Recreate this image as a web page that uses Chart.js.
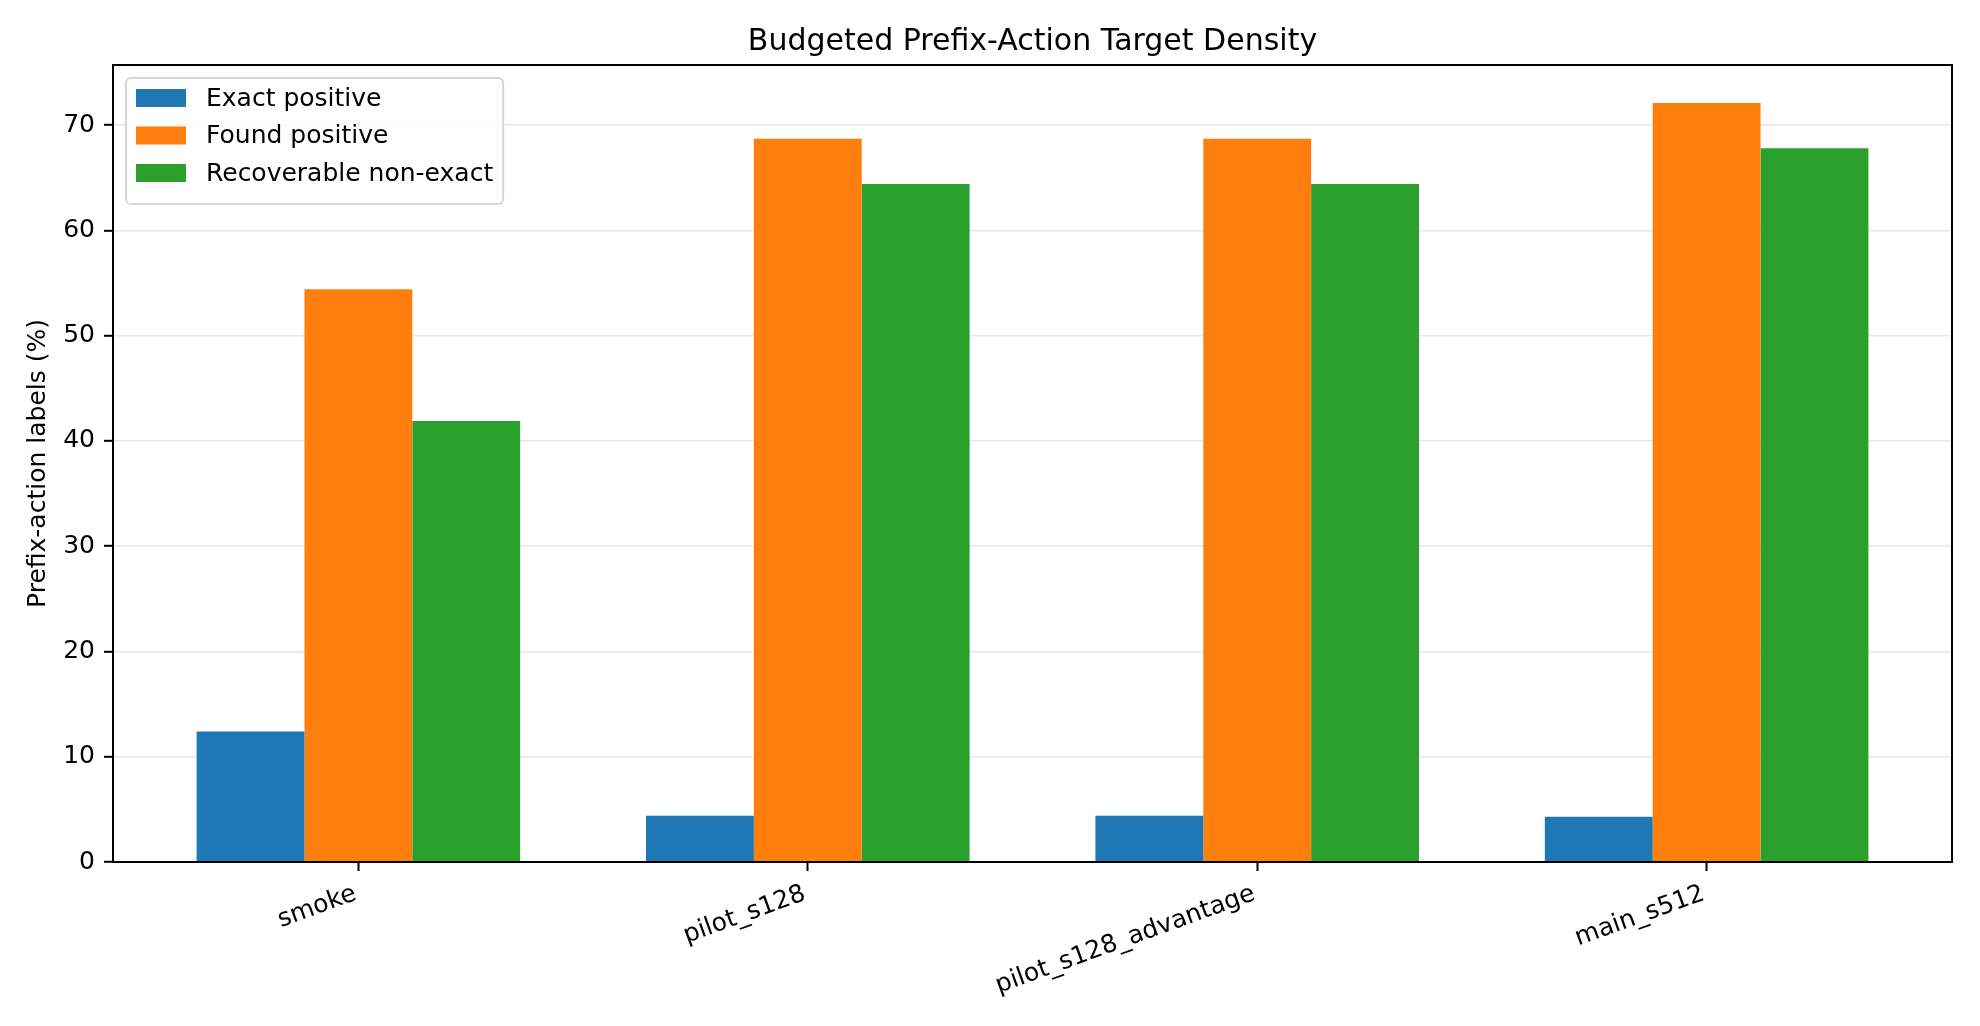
<!DOCTYPE html>
<html>
<head>
<meta charset="utf-8">
<script src="https://cdn.jsdelivr.net/npm/chart.js@4.4.1/dist/chart.umd.min.js"></script>
<style>
  html, body { margin: 0; padding: 0; background: #fff; }
  #wrap { width: 1980px; height: 1026px; }
</style>
</head>
<body>
<div id="wrap"><canvas id="densityChart" width="1980" height="1026"></canvas></div>
<script>
// data
const categories = ["smoke", "pilot_s128", "pilot_s128_advantage", "main_s512"];
const seriesNames = ["Exact positive", "Found positive", "Recoverable non-exact"];
const exactPositive = [12.4, 4.4, 4.4, 4.3];
const foundPositive = [54.4, 68.7, 68.7, 72.1];
const recoverableNonExact = [41.9, 64.4, 64.4, 67.8];
const seriesColors = ["#1f77b4", "#ff7f0e", "#2ca02c"];
const yTickStep = 10;

const FONT = "'DejaVu Sans', 'Liberation Sans', sans-serif";
const groupWidth = 0.72;

// matplotlib-like auto limits
const xRange = categories.length - 1 + groupWidth;
const xMin = -groupWidth / 2 - 0.05 * xRange;
const xMax = categories.length - 1 + groupWidth / 2 + 0.05 * xRange;
const yMax = Math.max(...exactPositive, ...foundPositive, ...recoverableNonExact) * 1.05;

function toPoints(values) {
    return values.map((v, i) => ({ x: i, y: v }));
}

const frameAndLegend = {
    id: "frameAndLegend",
    afterDraw(chart) {
        const ctx = chart.ctx;
        const area = chart.chartArea;
        ctx.save();
        // axes box
        ctx.strokeStyle = "#000";
        ctx.lineWidth = 2;
        ctx.strokeRect(area.left, area.top, area.right - area.left, area.bottom - area.top);

        // legend in the upper left corner of the axes
        ctx.font = "25px " + FONT;
        const sets = chart.data.datasets;
        let maxW = 0;
        sets.forEach(ds => { maxW = Math.max(maxW, ctx.measureText(ds.label).width); });
        const bx = area.left + 13, by = area.top + 13;
        const rowH = 37.5;
        const bw = 10 + 50 + 20 + maxW + 10;
        const bh = 10 + rowH * sets.length - 12.5 + 10 + 6;
        ctx.beginPath();
        ctx.roundRect(bx, by, bw, bh, 5);
        ctx.fillStyle = "rgba(255,255,255,0.8)";
        ctx.fill();
        ctx.strokeStyle = "rgba(204,204,204,0.8)";
        ctx.lineWidth = 2;
        ctx.stroke();
        ctx.textBaseline = "middle";
        ctx.textAlign = "left";
        sets.forEach((ds, i) => {
            const cy = by + 20 + i * rowH;
            ctx.fillStyle = ds.backgroundColor;
            ctx.fillRect(bx + 10, cy - 9, 50, 18);
            ctx.fillStyle = "#000";
            ctx.fillText(ds.label, bx + 80, cy + 1);
        });
        ctx.restore();
    }
};

const ctx = document.getElementById("densityChart");

new Chart(ctx, {
    type: "bar",
    data: {
        datasets: [
            { label: seriesNames[0], data: toPoints(exactPositive), backgroundColor: seriesColors[0] },
            { label: seriesNames[1], data: toPoints(foundPositive), backgroundColor: seriesColors[1] },
            { label: seriesNames[2], data: toPoints(recoverableNonExact), backgroundColor: seriesColors[2] }
        ]
    },
    options: {
        responsive: false,
        devicePixelRatio: 1,
        animation: false,
        categoryPercentage: groupWidth,
        barPercentage: 1.0,
        layout: { autoPadding: false, padding: { left: 0, right: 28, top: 0, bottom: 0 } },
        plugins: {
            legend: { display: false },
            tooltip: { enabled: false },
            title: {
                display: true,
                fullSize: false,
                text: "Budgeted Prefix-Action Target Density",
                color: "#000",
                font: { family: FONT, size: 30, weight: "normal" },
                padding: { top: 24, bottom: 5 }
            }
        },
        scales: {
            x: {
                type: "linear",
                min: xMin,
                max: xMax,
                offset: false,
                border: { display: false },
                grid: { display: true, offset: false, drawOnChartArea: false, tickLength: 9, tickWidth: 2, tickColor: "#000" },
                ticks: {
                    color: "#000",
                    font: { family: FONT, size: 25 },
                    minRotation: 20,
                    maxRotation: 20,
                    autoSkip: false,
                    padding: 8,
                    labelOffset: -3,
                    callback: (v) => categories[v] ?? ""
                },
                afterBuildTicks: (axis) => {
                    axis.ticks = categories.map((c, i) => ({ value: i }));
                },
                afterFit: (axis) => { axis.height = 164; }
            },
            y: {
                min: 0,
                max: yMax,
                z: 1,
                border: { display: false },
                grid: { color: "rgba(176,176,176,0.3)", lineWidth: 1.6, tickLength: 9, tickWidth: 2, tickColor: "#000" },
                ticks: {
                    stepSize: yTickStep,
                    includeBounds: false,
                    color: "#000",
                    padding: 9,
                    font: { family: FONT, size: 25 }
                },
                title: {
                    display: true,
                    text: "Prefix-action labels (%)",
                    color: "#000",
                    font: { family: FONT, size: 25 },
                    padding: { top: 23, bottom: 0 }
                },
                afterFit: (axis) => { axis.width = 113; }
            }
        }
    },
    plugins: [frameAndLegend]
});
</script>
</body>
</html>
